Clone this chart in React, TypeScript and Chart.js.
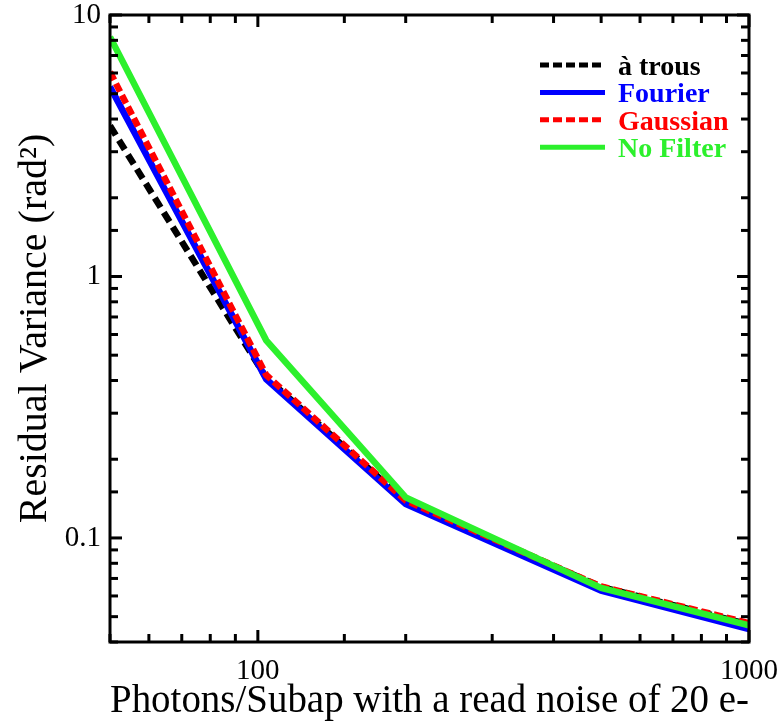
import React, { useEffect, useRef } from 'react';
import { Chart, registerables } from 'chart.js';

Chart.register(...registerables);

// ---- data ----
const xValues = [50, 104, 200, 500, 1000];
const aTrous = [3.77, 0.41, 0.138, 0.065, 0.0467];
const fourier = [5.31, 0.405, 0.135, 0.0628, 0.0448];
const gaussian = [6.05, 0.42, 0.139, 0.0652, 0.0472];
const noFilter = [8.24, 0.57, 0.143, 0.0644, 0.0463];

const seriesLabels = ['\u00e0 trous', 'Fourier', 'Gaussian', 'No Filter'];
const seriesColors = ['#000000', '#0000ff', '#ff0000', '#2cf02c'];
const seriesDashes: number[][] = [[11, 6], [], [9, 4], []];
const seriesValues = [aTrous, fourier, gaussian, noFilter];

const xTickLabels = [100, 1000];
const yTickLabels = [0.1, 1, 10];
const xTitle = 'Photons/Subap with a read noise of 20 e-';
const yTitle = 'Residual Variance (rad\u00b2)';

const SERIF = '"Liberation Serif", "Times New Roman", serif';

const frameAndTicks = {
  id: 'frameAndTicks',
  afterDatasetsDraw(chart: any) {
    const { ctx, chartArea } = chart;
    const { left, right, top, bottom } = chartArea;
    const xs = chart.scales.x;
    const ys = chart.scales.y;
    ctx.save();
    ctx.strokeStyle = '#000';
    ctx.lineWidth = 3;
    ctx.lineCap = 'butt';
    const seg = (x1: number, y1: number, x2: number, y2: number) => {
      ctx.beginPath();
      ctx.moveTo(x1, y1);
      ctx.lineTo(x2, y2);
      ctx.stroke();
    };
    for (const t of xs.ticks) {
      const px = xs.getPixelForValue(t.value);
      const major = xTickLabels.some((v) => Math.abs(v - t.value) < 1e-9);
      const len = major ? 12 : 8;
      seg(px, bottom, px, bottom - len);
      seg(px, top, px, top + len);
    }
    for (const t of ys.ticks) {
      const py = ys.getPixelForValue(t.value);
      const major = yTickLabels.some((v) => Math.abs(v - t.value) / v < 1e-6);
      const len = major ? 12 : 8;
      seg(left, py, left + len, py);
      seg(right, py, right - len, py);
    }
    ctx.strokeRect(left, top, right - left, bottom - top);
    ctx.restore();
  },
};

const insideLegend = {
  id: 'insideLegend',
  afterDraw(chart: any) {
    const { ctx, chartArea } = chart;
    const { right, top } = chartArea;
    const x0 = right - 209;
    const x1 = right - 144;
    const tx = right - 131;
    const rowGap = 27.4;
    const y0 = top + 50;
    ctx.save();
    chart.data.datasets.forEach((ds: any, i: number) => {
      const y = y0 + i * rowGap;
      ctx.strokeStyle = ds.borderColor;
      ctx.lineWidth = 5;
      ctx.setLineDash(ds.borderDash && ds.borderDash.length ? [9, 4] : []);
      ctx.beginPath();
      ctx.moveTo(x0, y);
      ctx.lineTo(x1, y);
      ctx.stroke();
      ctx.setLineDash([]);
      ctx.fillStyle = ds.borderColor;
      ctx.font = `bold 28px ${SERIF}`;
      ctx.textAlign = 'left';
      ctx.textBaseline = 'alphabetic';
      ctx.fillText(ds.label, tx, y + 10);
    });
    ctx.restore();
  },
};

const zeroPad = (s: any) => {
  s.paddingTop = 0;
  s.paddingBottom = 0;
  s.paddingLeft = 0;
  s.paddingRight = 0;
};

export default function App() {
  const canvasRef = useRef<HTMLCanvasElement | null>(null);

  useEffect(() => {
    document.body.style.margin = '0';
    const canvas = canvasRef.current;
    if (!canvas) return;
    const datasets = seriesLabels.map((label, i) => ({
      label,
      data: xValues.map((x, j) => ({ x, y: seriesValues[i][j] })),
      borderColor: seriesColors[i],
      backgroundColor: seriesColors[i],
      borderWidth: 6.5,
      borderDash: seriesDashes[i],
      borderCapStyle: 'butt' as const,
      borderJoinStyle: 'miter' as const,
      pointRadius: 0,
      fill: false,
      tension: 0,
      order: seriesLabels.length - 1 - i,
    }));
    const chart = new Chart(canvas, {
      type: 'line',
      data: { datasets },
      options: {
        animation: false,
        responsive: false,
        devicePixelRatio: 1,
        layout: { padding: { top: 15, right: 33, left: 0, bottom: 0 } },
        plugins: {
          legend: { display: false },
          tooltip: { enabled: false },
        },
        scales: {
          x: {
            type: 'logarithmic',
            min: 50,
            max: 1000,
            afterFit: (s: any) => {
              s.height = 86;
              zeroPad(s);
            },
            grid: { display: false, drawTicks: false },
            border: { display: false },
            ticks: {
              autoSkip: false,
              maxRotation: 0,
              padding: 12,
              color: '#000',
              font: { family: SERIF, size: 29 },
              callback: (v: any) =>
                xTickLabels.some((t) => Math.abs(t - Number(v)) < 1e-9) ? String(v) : '',
            },
            title: {
              display: true,
              text: xTitle,
              color: '#000',
              font: { family: SERIF, size: 39 },
              padding: { top: 0, bottom: 3 },
            },
          },
          y: {
            type: 'logarithmic',
            min: 0.04,
            max: 10,
            afterFit: (s: any) => {
              s.width = 110;
              zeroPad(s);
            },
            grid: { display: false, drawTicks: false },
            border: { display: false },
            ticks: {
              autoSkip: false,
              padding: 9,
              color: '#000',
              font: { family: SERIF, size: 29 },
              callback: (v: any) => {
                const n = Number(v);
                return yTickLabels.some((t) => Math.abs(t - n) / t < 1e-6) ? String(n) : '';
              },
            },
            title: {
              display: true,
              text: yTitle,
              color: '#000',
              font: { family: SERIF, size: 40 },
              padding: { top: 11, bottom: 0 },
            },
          },
        },
      },
      plugins: [frameAndTicks, insideLegend],
    });
    return () => chart.destroy();
  }, []);

  return (
    <div style={{ position: 'absolute', left: 0, top: 0, width: 782, height: 728, background: '#fff' }}>
      <canvas ref={canvasRef} width={782} height={728} />
    </div>
  );
}
